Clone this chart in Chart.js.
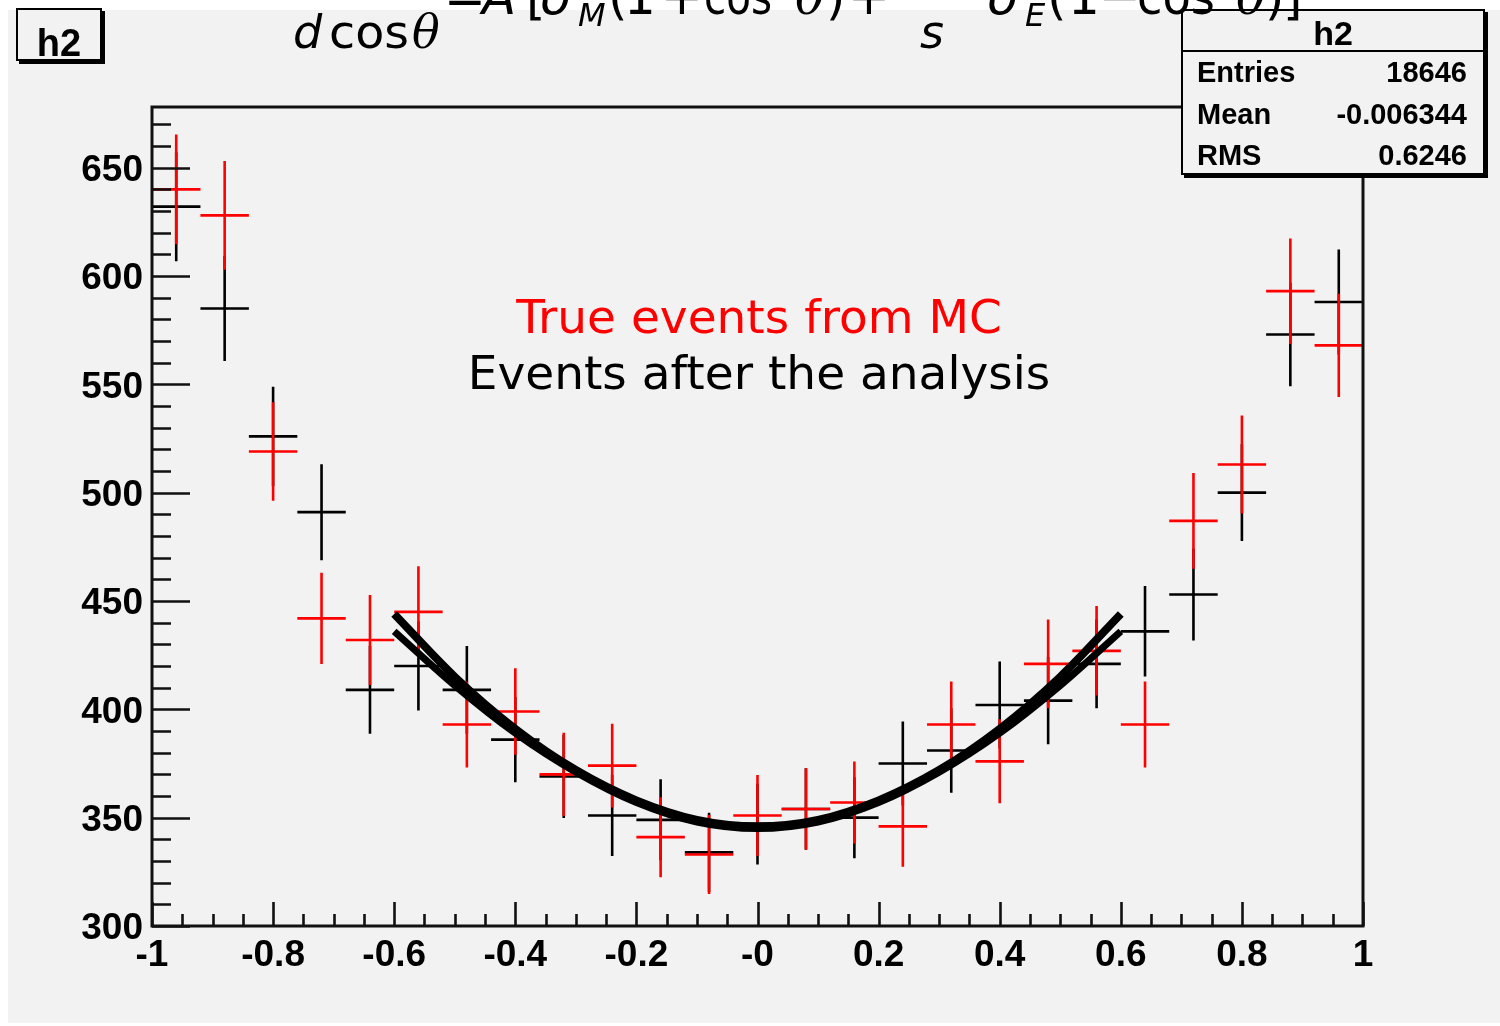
<!DOCTYPE html>
<html>
<head>
<meta charset="utf-8">
<script src="https://cdn.jsdelivr.net/npm/chart.js@4.4.1/dist/chart.umd.min.js"></script>
<style>
  html, body { margin: 0; padding: 0; background: #fff; }
  canvas { display: block; }
</style>
</head>
<body>
<canvas id="c" width="1500" height="1026"></canvas>
<script>
// histogram bins (cos theta), 25 bins of width 0.08
const binCenters = [-0.96, -0.88, -0.80, -0.72, -0.64, -0.56, -0.48, -0.40, -0.32, -0.24, -0.16, -0.08, 0.00,
                    0.08, 0.16, 0.24, 0.32, 0.40, 0.48, 0.56, 0.64, 0.72, 0.80, 0.88, 0.96];
const binWidth = 0.08;
const trueMC   = [640, 628, 519, 442, 432, 445, 393, 399, 370, 374, 341, 333, 351,
                  354, 357, 346, 393, 376, 421, 427, 393, 487, 513, 593, 568];
const afterAna = [632, 585, 526, 491, 409, 420, 409, 386, 369, 351, 349, 334, 347,
                  354, 350, 375, 381, 402, 404, 421, 436, 453, 500, 573, 588];

// fit curves
const fitX     = [-0.6, -0.5, -0.4, -0.3, -0.2, -0.1, 0.0, 0.1, 0.2, 0.3, 0.4, 0.5, 0.6];
const fitUpper = [444, 415, 391, 372, 358, 349, 346, 349, 358, 372, 391, 415, 444];
const fitLower = [436, 411, 389, 371, 357, 348, 345, 348, 357, 371, 389, 411, 436];

// axes
const xMajor = [-1, -0.8, -0.6, -0.4, -0.2, 0, 0.2, 0.4, 0.6, 0.8, 1];
const xMajorLabels = ['-1', '-0.8', '-0.6', '-0.4', '-0.2', '-0', '0.2', '0.4', '0.6', '0.8', '1'];
const yMajor = [300, 350, 400, 450, 500, 550, 600, 650];
const yMin = 300, yMax = 678;

// stats box
const statNames = ['Entries', 'Mean', 'RMS'];
const statValues = ['18646', '-0.006344', '0.6246'];

const BG = '#f2f2f2';
const tickFont = { family: '"Liberation Sans", Arial, sans-serif', size: 37, weight: 'bold' };

function txt(ctx, s, x, y, font, w) {
  ctx.save();
  ctx.font = font;
  ctx.textAlign = 'left';
  ctx.textBaseline = 'alphabetic';
  ctx.translate(x, y);
  if (w) {
    const m = ctx.measureText(s).width;
    ctx.scale(w / m, 1);
  }
  ctx.fillText(s, 0, 0);
  ctx.restore();
}

const rootLook = {
  id: 'rootLook',
  beforeDraw(chart) {
    const ctx = chart.ctx;
    ctx.save();
    ctx.fillStyle = '#fff';
    ctx.fillRect(0, 0, chart.width, chart.height);
    ctx.fillStyle = BG;
    ctx.fillRect(8, 10, chart.width - 8, 1013);
    ctx.restore();
  },
  beforeDatasetsDraw(chart) {
    // error crosses: bin width horizontally, sqrt(N) vertically
    const ctx = chart.ctx;
    const xs = chart.scales.x, ys = chart.scales.y;
    const a = chart.chartArea;
    ctx.save();
    ctx.beginPath();
    ctx.rect(a.left, a.top, a.right - a.left, a.bottom - a.top);
    ctx.clip();
    ctx.lineWidth = 2.6;
    chart.data.datasets.forEach(ds => {
      if (!ds.errColor) return;
      ctx.strokeStyle = ds.errColor;
      ds.data.forEach(p => {
        const err = Math.sqrt(p.y);
        const x0 = xs.getPixelForValue(p.x - binWidth / 2);
        const x1 = xs.getPixelForValue(p.x + binWidth / 2);
        const xc = xs.getPixelForValue(p.x);
        const yc = ys.getPixelForValue(p.y);
        ctx.beginPath();
        ctx.moveTo(x0, yc); ctx.lineTo(x1, yc);
        ctx.moveTo(xc, ys.getPixelForValue(p.y + err));
        ctx.lineTo(xc, ys.getPixelForValue(p.y - err));
        ctx.stroke();
      });
    });
    ctx.restore();
  },
  afterDraw(chart) {
    const ctx = chart.ctx;
    const xs = chart.scales.x, ys = chart.scales.y;
    const a = chart.chartArea;
    ctx.save();

    // ticks inside frame
    ctx.strokeStyle = '#111';
    ctx.lineWidth = 2.6;
    ctx.beginPath();
    for (let v = yMin; v <= yMax; v += 10) {
      const y = Math.round(ys.getPixelForValue(v)) + 0.5;
      const len = (v % 50 === 0) ? 38 : 19;
      ctx.moveTo(a.left, y); ctx.lineTo(a.left + len, y);
    }
    for (let k = 0; k <= 40; k++) {
      const v = -1 + k * 0.05;
      const x = Math.round(xs.getPixelForValue(v)) + 0.5;
      const len = (k % 4 === 0) ? 24 : 12;
      ctx.moveTo(x, a.bottom); ctx.lineTo(x, a.bottom - len);
    }
    ctx.stroke();

    // frame
    ctx.lineWidth = 3;
    ctx.strokeStyle = '#111';
    ctx.strokeRect(a.left, a.top, a.right - a.left, a.bottom - a.top);

    // annotation texts
    ctx.textAlign = 'center';
    ctx.textBaseline = 'alphabetic';
    ctx.font = '47px "DejaVu Sans"';
    ctx.fillStyle = '#ff0000';
    ctx.fillText('True events from MC', 759, 333);
    ctx.fillStyle = '#000';
    ctx.fillText('Events after the analysis', 759, 389);

    // stats box
    ctx.fillStyle = '#000';
    ctx.fillRect(1184, 12, 304, 166);
    ctx.fillStyle = BG;
    ctx.fillRect(1181, 9, 304, 166);
    ctx.lineWidth = 2;
    ctx.strokeStyle = '#000';
    ctx.strokeRect(1182, 10, 302, 164);
    ctx.beginPath();
    ctx.moveTo(1182, 51); ctx.lineTo(1484, 51);
    ctx.stroke();
    ctx.fillStyle = '#000';
    ctx.font = 'bold 34px "Liberation Sans"';
    ctx.textAlign = 'center';
    ctx.fillText('h2', 1333, 45);
    ctx.font = 'bold 29px "Liberation Sans"';
    statNames.forEach((n, i) => {
      const y = 82 + i * 41.5;
      ctx.textAlign = 'left';
      ctx.fillText(n, 1197, y);
      ctx.textAlign = 'right';
      ctx.fillText(statValues[i], 1467, y);
    });

    // h2 title box
    ctx.fillStyle = '#000';
    ctx.fillRect(19, 11, 86, 53);
    ctx.fillStyle = BG;
    ctx.fillRect(16, 8, 86, 53);
    ctx.lineWidth = 2;
    ctx.strokeRect(17, 9, 84, 51);
    ctx.fillStyle = '#000';
    ctx.font = 'bold 38px "Liberation Sans"';
    ctx.textAlign = 'center';
    ctx.fillText('h2', 59, 56);

    // formula (cut off at the top)
    ctx.fillStyle = '#000';
    const sans = '"DejaVu Sans"';
    const it46 = 'italic 46px ' + sans, r46 = '46px ' + sans;
    const it50 = 'italic 50px ' + sans, r50 = '50px ' + sans;
    const th46 = 'italic 46px "DejaVu Serif"', th50 = 'italic 50px "DejaVu Serif"';
    const sub = 'italic 32px ' + sans;
    txt(ctx, 'dσ', 330, -16, it46);
    txt(ctx, 'd', 293, 48, it46);
    txt(ctx, 'cos', 329, 48, r46, 80);
    txt(ctx, 'θ', 412, 48, th46);
    txt(ctx, '=', 444, 14, r50);
    txt(ctx, 'A', 482, 14, it50);
    txt(ctx, '[', 526, 14, r50);
    txt(ctx, 'σ', 540, 14, it50);
    txt(ctx, 'M', 578, 26, sub);
    txt(ctx, '(', 608, 14, r50);
    txt(ctx, '1', 624, 14, r50);
    txt(ctx, '+', 661, 14, r50);
    txt(ctx, 'cos', 704, 14, r50, 68);
    txt(ctx, '2', 775, -14, '30px ' + sans);
    txt(ctx, 'θ', 795, 14, th50);
    txt(ctx, ')', 826, 14, r50);
    txt(ctx, '+', 848, 14, r50);
    txt(ctx, 's', 920, 48, it46);
    txt(ctx, 'σ', 987, 14, it50);
    txt(ctx, 'E', 1025, 26, sub);
    txt(ctx, '(', 1047, 14, r50);
    txt(ctx, '1', 1068, 14, r50);
    txt(ctx, '−', 1099, 14, r50);
    txt(ctx, 'cos', 1137, 14, r50, 78);
    txt(ctx, '2', 1215, -14, '30px ' + sans);
    txt(ctx, 'θ', 1236, 14, th50);
    txt(ctx, ')', 1265, 14, r50);
    txt(ctx, ']', 1283, 14, r50);

    ctx.restore();
  }
};

new Chart(document.getElementById('c'), {
  type: 'scatter',
  data: {
    datasets: [
      {
        label: 'fit',
        data: fitX.map((x, i) => ({ x: x, y: fitUpper[i] })),
        showLine: true, borderColor: '#000', borderWidth: 8,
        pointRadius: 0, cubicInterpolationMode: 'monotone', fill: false
      },
      {
        label: 'fit 2',
        data: fitX.map((x, i) => ({ x: x, y: fitLower[i] })),
        showLine: true, borderColor: '#000', borderWidth: 7,
        pointRadius: 0, cubicInterpolationMode: 'monotone', fill: false
      },
      {
        label: 'Events after the analysis',
        data: binCenters.map((x, i) => ({ x: x, y: afterAna[i] })),
        showLine: false, pointRadius: 0, errColor: '#000'
      },
      {
        label: 'True events from MC',
        data: binCenters.map((x, i) => ({ x: x, y: trueMC[i] })),
        showLine: false, pointRadius: 0, errColor: '#ff0000'
      }
    ]
  },
  options: {
    responsive: false,
    animation: false,
    layout: { padding: { left: 0, right: 137, top: 107, bottom: 0 } },
    plugins: { legend: { display: false }, tooltip: { enabled: false } },
    scales: {
      x: {
        type: 'linear', min: -1, max: 1,
        grid: { display: false, drawTicks: false },
        border: { display: false },
        afterBuildTicks: s => { s.ticks = xMajor.map(v => ({ value: v })); },
        afterFit: s => { s.height = 100; },
        ticks: {
          font: tickFont, color: '#000', padding: 8,
          maxRotation: 0, autoSkip: false,
          callback: (v, i) => xMajorLabels[i]
        }
      },
      y: {
        type: 'linear', min: yMin, max: yMax,
        grid: { display: false, drawTicks: false },
        border: { display: false },
        afterBuildTicks: s => { s.ticks = yMajor.map(v => ({ value: v })); },
        afterFit: s => { s.width = 152; },
        ticks: {
          font: tickFont, color: '#000', padding: 9, labelOffset: 3,
          callback: v => String(v)
        }
      }
    }
  },
  plugins: [rootLook]
});
</script>
</body>
</html>
